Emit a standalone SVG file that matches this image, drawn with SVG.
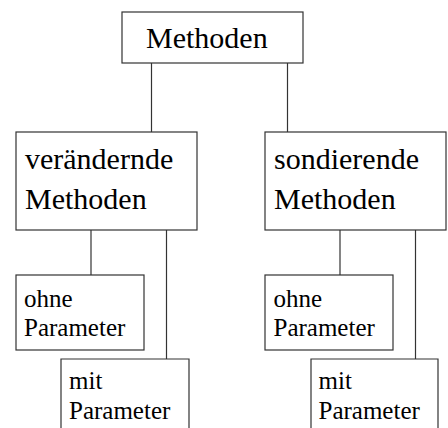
<svg xmlns="http://www.w3.org/2000/svg" width="448" height="428" viewBox="0 0 448 428">
  <style>
    .box { fill: #ffffff; stroke: #333333; stroke-width: 1.2; }
    .wire { fill: none; stroke: #333333; stroke-width: 1.2; }
    .big { font-size: 30px; fill: #000000; }
    .small { font-size: 25px; fill: #000000; }
  </style>
  <rect width="448" height="428" fill="#ffffff"/>

  <g id="connectors">
    <line class="wire" x1="151.5" y1="63" x2="151.5" y2="132"/>
    <line class="wire" x1="287.5" y1="63" x2="287.5" y2="132"/>
    <line class="wire" x1="91" y1="230" x2="91" y2="275"/>
    <line class="wire" x1="166.5" y1="230" x2="166.5" y2="359"/>
    <line class="wire" x1="340" y1="230" x2="340" y2="275"/>
    <line class="wire" x1="415.5" y1="230" x2="415.5" y2="359"/>
  </g>

  <g id="methoden">
    <rect class="box" x="122" y="12" width="181" height="51"/>
    <text class="big" font-family="Liberation Serif" x="146" y="48">Methoden</text>
  </g>

  <g id="veraendernde">
    <rect class="box" x="16" y="132" width="181" height="98"/>
    <text class="big" font-family="Liberation Serif" x="25" y="169">verändernde</text>
    <text class="big" font-family="Liberation Serif" x="25" y="209">Methoden</text>
  </g>

  <g id="sondierende">
    <rect class="box" x="265" y="132" width="181" height="98"/>
    <text class="big" font-family="Liberation Serif" x="274" y="169">sondierende</text>
    <text class="big" font-family="Liberation Serif" x="274" y="209">Methoden</text>
  </g>

  <g id="v-ohne">
    <rect class="box" x="16" y="275" width="128" height="75"/>
    <text class="small" font-family="Liberation Serif" x="24" y="307">ohne</text>
    <text class="small" font-family="Liberation Serif" x="24" y="336">Parameter</text>
  </g>

  <g id="v-mit">
    <path class="box" d="M61,430 V359 H189 V430"/>
    <text class="small" font-family="Liberation Serif" x="69" y="389">mit</text>
    <text class="small" font-family="Liberation Serif" x="69" y="419">Parameter</text>
  </g>

  <g id="s-ohne">
    <rect class="box" x="265" y="275" width="128" height="75"/>
    <text class="small" font-family="Liberation Serif" x="273.5" y="307">ohne</text>
    <text class="small" font-family="Liberation Serif" x="273.5" y="336">Parameter</text>
  </g>

  <g id="s-mit">
    <path class="box" d="M311,430 V359 H438 V430"/>
    <text class="small" font-family="Liberation Serif" x="318.5" y="389">mit</text>
    <text class="small" font-family="Liberation Serif" x="318.5" y="419">Parameter</text>
  </g>
</svg>
